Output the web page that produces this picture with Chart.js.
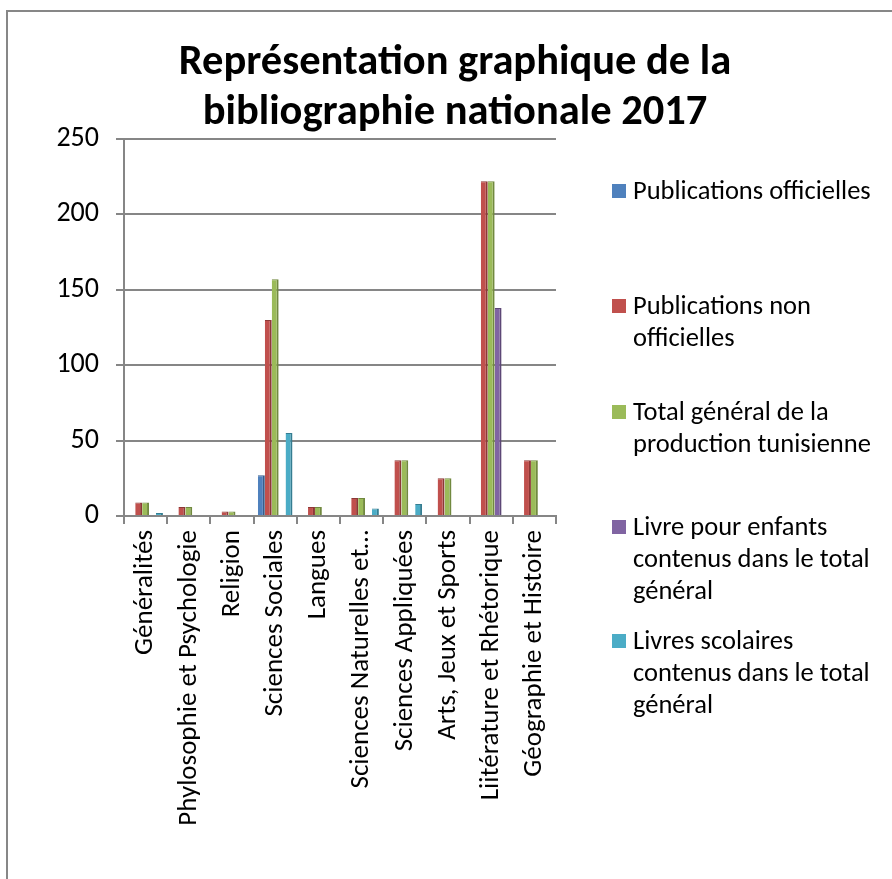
<!DOCTYPE html>
<html lang="fr">
<head>
<meta charset="utf-8">
<title>Bibliographie nationale 2017</title>
<script src="https://cdn.jsdelivr.net/npm/chart.js@4/dist/chart.umd.min.js"></script>
<style>
  html, body { margin: 0; padding: 0; background: #fff; }
  #cadre {
    position: relative;
    width: 892px; height: 879px;
    font-family: Carlito, Calibri, Lato, sans-serif;
    color: #000;
    overflow: hidden;
  }
  #bordure {
    position: absolute; left: 6px; top: 10px; right: -4px; bottom: -4px;
    border-left: 2px solid #878787; border-top: 2px solid #878787;
  }
  #titre {
    position: absolute; left: 20px; top: 35px; width: 870px;
    text-align: center; font-weight: bold; font-size: 42.5px; line-height: 50px;
  }
  #graphique { position: absolute; left: 0; top: 0; }
  #legende {
    position: absolute; left: 612px; top: 174px; width: 275px;
    list-style: none; margin: 0; padding: 0;
    font-size: 26.5px; line-height: 32px;
  }
  #legende li { position: relative; padding-left: 21px; }
  #legende li span.carre {
    position: absolute; left: 0; top: 10px; width: 14px; height: 14px;
  }
  #legende li:nth-child(2) { margin-top: 83px; }
  #legende li:nth-child(3) { margin-top: 42px; }
  #legende li:nth-child(4) { margin-top: 51px; }
  #legende li:nth-child(5) { margin-top: 18px; }
</style>
</head>
<body>
<div id="cadre">
  <div id="bordure"></div>
  <canvas id="graphique" width="892" height="879"></canvas>
  <div id="titre">Représentation graphique de la<br>bibliographie nationale 2017</div>
  <ul id="legende"></ul>
</div>
<script>
// ===============================
//   DONNEES
// ===============================
const categories = [
  "Généralités",
  "Phylosophie et Psychologie",
  "Religion",
  "Sciences Sociales",
  "Langues",
  "Sciences Naturelles et…",
  "Sciences Appliquées",
  "Arts, Jeux et Sports",
  "Liitérature et Rhétorique",
  "Géographie et Histoire"
];

const nomsSeries = [
  "Publications officielles",
  "Publications non officielles",
  "Total général de la production tunisienne",
  "Livre pour enfants contenus dans le total général",
  "Livres scolaires contenus dans le total général"
];

const publicationsOfficielles    = [0, 0, 0, 27, 0, 0, 0, 0, 0, 0];
const publicationsNonOfficielles = [9, 6, 3, 130, 6, 12, 37, 25, 222, 37];
const totalGeneral               = [9, 6, 3, 157, 6, 12, 37, 25, 222, 37];
const livresEnfants              = [0, 0, 0, 0, 0, 0, 0, 0, 138, 0];
const livresScolaires            = [2, 0, 0, 55, 0, 5, 8, 0, 0, 0];

const ticksY = [0, 50, 100, 150, 200, 250];

// ===============================
//   STYLE
// ===============================
const couleurs = ["#4F81BD", "#C0504D", "#9BBB59", "#8064A2", "#4BACC6"];
const couleursBord = ["#385D8A", "#8C3836", "#71893F", "#5C4776", "#357D91"];
const gris = "#868686";
const police = "Carlito, Calibri, Lato, sans-serif";

const valeurs = [publicationsOfficielles, publicationsNonOfficielles, totalGeneral, livresEnfants, livresScolaires];

// ===============================
//   LEGENDE (HTML, texte sur plusieurs lignes)
// ===============================
document.getElementById("legende").innerHTML = nomsSeries.map((nom, i) =>
  `<li><span class="carre" style="background:${couleurs[i]}"></span>${nom}</li>`
).join("");

// ===============================
//   GRAPHIQUE
// ===============================
new Chart(document.getElementById("graphique"), {
  type: "bar",
  data: {
    labels: categories,
    datasets: valeurs.map((v, i) => ({
      label: nomsSeries[i],
      data: v,
      backgroundColor: couleurs[i],
      borderColor: couleursBord[i],
      borderWidth: { top: 1, right: 2, bottom: 0, left: 0 },
      borderSkipped: "bottom",
      categoryPercentage: 0.8,
      barPercentage: 1.0
    }))
  },
  options: {
    responsive: false,
    animation: false,
    layout: { padding: { left: 54, right: 336, top: 139, bottom: 33 } },
    plugins: {
      legend: { display: false },
      title: { display: false },
      tooltip: { enabled: false }
    },
    scales: {
      x: {
        afterFit: (s) => { s.height = 330; },
        grid: {
          display: true, drawOnChartArea: false, offset: true,
          color: gris, lineWidth: 2, tickLength: 8
        },
        border: { display: true, color: gris, width: 2 },
        ticks: {
          color: "#000", font: { family: police, size: 27 },
          minRotation: 90, maxRotation: 90, autoSkip: false, padding: 6
        }
      },
      y: {
        min: 0, max: 250,
        afterFit: (s) => { s.width = 70; },
        afterBuildTicks: (s) => { s.ticks = ticksY.map(v => ({ value: v })); },
        grid: { color: gris, lineWidth: 2, tickLength: 8 },
        border: { display: true, color: gris, width: 2 },
        ticks: {
          color: "#000", font: { family: police, size: 28 }, padding: 17
        }
      }
    }
  }
});
</script>
</body>
</html>
